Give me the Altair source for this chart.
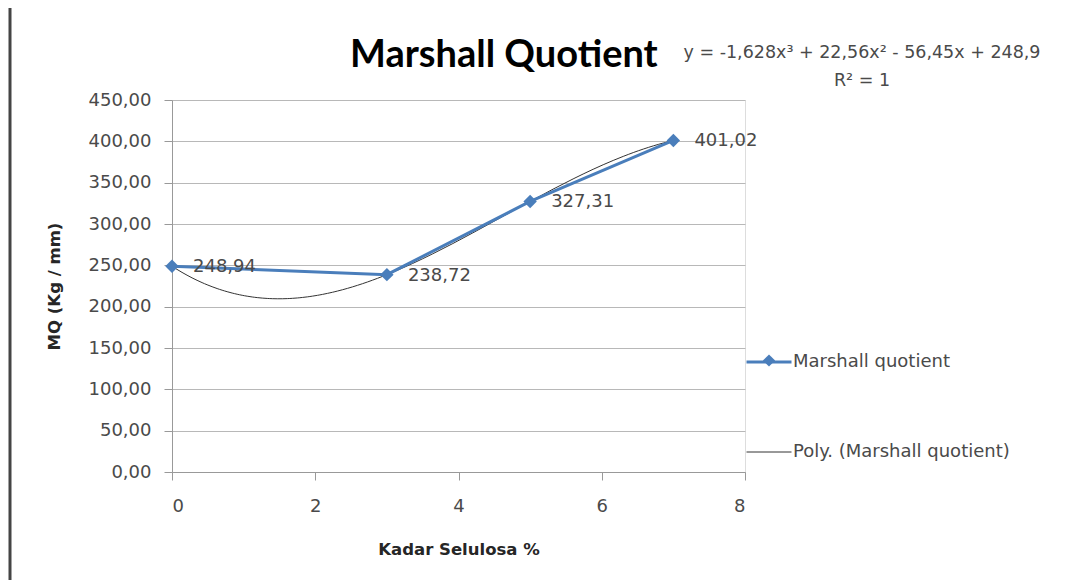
import altair as alt
import pandas as pd

# ---- data ----
kadar = [0, 3, 5, 7]
mq = [248.94, 238.72, 327.31, 401.02]
series_names = ["Marshall quotient", "Poly. (Marshall quotient)"]
y_ticks = [0, 50, 100, 150, 200, 250, 300, 350, 400, 450]
x_ticks = [0, 2, 4, 6, 8]
equation_lines = ["y = -1,628x³ + 22,56x² - 56,45x + 248,9", "R² = 1"]

df = pd.DataFrame({"x": kadar, "y": mq, "series": series_names[0]})
eq_df = pd.DataFrame({"t": ["\n".join(equation_lines)]})

FONT = "DejaVu Sans"
TFONT = "Lato"
BLUE = "#4A7EBB"
DARK = "#333333"
TXT = "#4a4a4a"

xs = alt.X("x:Q", scale=alt.Scale(domain=[0, 8], nice=False),
           axis=alt.Axis(values=x_ticks, title="Kadar Selulosa %", grid=False,
                         labelFontSize=18, labelColor=TXT, labelFont=FONT,
                         labelPadding=17, tickSize=8, tickColor="#999999",
                         domainColor="#999999", titleFontSize=16.5, titleFont=FONT,
                         titleFontWeight="bold", titleColor="#262626", titlePadding=26))
ys = alt.Y("y:Q", scale=alt.Scale(domain=[0, 450], nice=False),
           axis=alt.Axis(values=y_ticks, title="MQ (Kg / mm)",
                         labelExpr="replace(format(datum.value, '.2f'), '.', ',')",
                         labelFontSize=18, labelColor=TXT, labelFont=FONT,
                         labelPadding=13, tickSize=8, tickColor="#999999",
                         domainColor="#999999", gridColor="#b8b8b8",
                         titleFontSize=16.5, titleFont=FONT, titleFontWeight="bold",
                         titleColor="#262626", titlePadding=26))

color_scale = alt.Scale(domain=series_names, range=[BLUE, DARK])
width_scale = alt.Scale(domain=series_names, range=[3, 1])

legend = alt.Legend(
    orient="none", legendX=573, legendY=238, title=None,
    symbolType="stroke", symbolSize=2025, labelFontSize=18, labelColor=TXT,
    labelFont=FONT, labelOffset=0, rowPadding=58, labelLimit=400,
)

base = alt.Chart(df)

poly = base.transform_regression(
    "x", "y", method="poly", order=3
).transform_calculate(series="'Poly. (Marshall quotient)'").mark_line(
    interpolate="monotone"
).encode(
    x=xs, y=ys,
    color=alt.Color("series:N", scale=color_scale, legend=legend),
    strokeWidth=alt.StrokeWidth("series:N", scale=width_scale, legend=legend),
)

line = base.mark_line().encode(
    x=xs, y=ys,
    color=alt.Color("series:N", scale=color_scale, legend=None),
    strokeWidth=alt.StrokeWidth("series:N", scale=width_scale, legend=None),
)

pts = base.mark_point(filled=True, size=180, opacity=1, color=BLUE).encode(
    x=xs, y=ys,
    shape=alt.Shape("series:N", scale=alt.Scale(domain=[series_names[0]], range=["diamond"]),
                    legend=alt.Legend(orient="none", legendX=589.5, legendY=253, title=None,
                                      symbolSize=150, symbolFillColor=BLUE,
                                      symbolStrokeColor=BLUE, labelOpacity=0,
                                      labelFontSize=15, labelFont=FONT)),
)

labels = base.transform_calculate(
    lbl="replace(format(datum.y, '.2f'), '.', ',')"
).mark_text(align="left", dx=21, dy=1, fontSize=18, font=FONT, color=TXT).encode(
    x=xs, y=ys, text="lbl:N"
)

eq = alt.Chart(eq_df).mark_text(align="center", baseline="middle", fontSize=17.5,
                                font=FONT, color=TXT, lineBreak="\n", lineHeight=28).encode(
    x=alt.value(690), y=alt.value(-47), text="t:N",
)

border = alt.Chart(eq_df).mark_rule(color="#444444", strokeWidth=3).encode(
    x=alt.value(-162), y=alt.value(-92), y2=alt.value(480)
)

chart = alt.layer(poly, line, pts, labels, eq, border).properties(
    width=573, height=372,
    padding={"left": 164, "top": 92, "right": 338, "bottom": 108},
    autosize=alt.AutoSizeParams(type="none"),
    title=alt.TitleParams("Marshall Quotient", anchor="start", frame="group", dx=178,
                          fontSize=38, font=TFONT, fontWeight="bold", color="#000000",
                          offset=-68),
).configure_view(stroke=None).configure(background="white")

chart.save("out.html", embed_options={"renderer": "svg", "actions": False})
